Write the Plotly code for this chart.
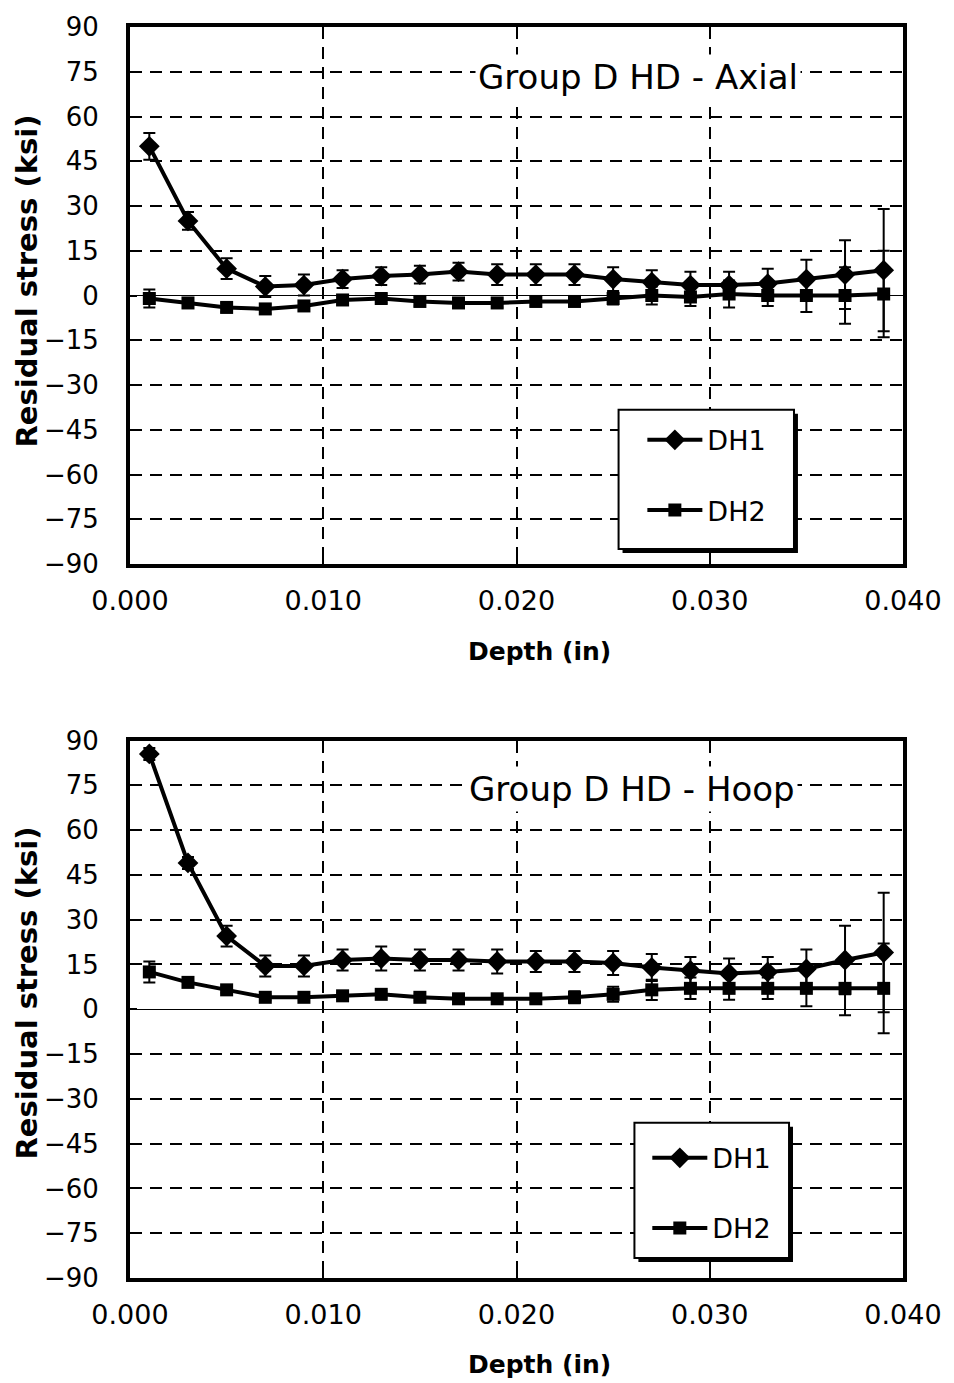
import plotly.graph_objects as go

# Depth positions (in)
depth = [0.001, 0.003, 0.005, 0.007, 0.009, 0.011, 0.013, 0.015, 0.017, 0.019,
         0.021, 0.023, 0.025, 0.027, 0.029, 0.031, 0.033, 0.035, 0.037, 0.039]

# Axial residual stress (ksi)
axial_dh1 = [50, 25, 9, 3, 3.5, 5.5, 6.5, 7, 8, 7, 7, 7, 5.5, 4.5, 3.5, 3.5, 4, 5.5, 7, 8.5]
axial_dh1_err = [4.5, 3, 3.5, 3.5, 3.5, 3, 3, 3, 3, 3.5, 3.5, 3.5, 4, 4, 4.5, 4.5, 5, 6.5, 11.5, 20.5]
axial_dh2 = [-1, -2.5, -4, -4.5, -3.5, -1.5, -1, -2, -2.5, -2.5, -2, -2, -1, 0, -0.5, 0.5, 0, 0, 0, 0.5]
axial_dh2_err = [3, 1.5, 1.5, 1.5, 1.5, 1.5, 1.5, 1.5, 1.5, 1.5, 1.5, 1.5, 2, 3, 3, 4.5, 3.5, 5.5, 9.5, 14.5]

# Hoop residual stress (ksi)
hoop_dh1 = [85.5, 49, 24.5, 14.5, 14.5, 16.5, 17, 16.5, 16.5, 16, 16, 16, 15.5, 14, 13, 12, 12.5, 13.5, 16.5, 19]
hoop_dh1_err = [2, 2, 3.5, 3.5, 3.5, 3.5, 4, 3.5, 3.5, 4, 3.5, 3.5, 4, 4.5, 4.5, 5, 5, 6.5, 11.5, 20]
hoop_dh2 = [12.5, 9, 6.5, 4, 4, 4.5, 5, 4, 3.5, 3.5, 3.5, 4, 5, 6.5, 7, 7, 7, 7, 7, 7]
hoop_dh2_err = [3.5, 1, 1, 1, 1, 1, 1, 1, 1, 1, 1.5, 2, 2.5, 3.4, 3.6, 3.8, 3.6, 6, 9, 15]

series_names = ["DH1", "DH2"]
panel_titles = ["Group D HD - Axial", "Group D HD - Hoop"]

y_ticks = list(range(-90, 91, 15))
x_ticks = [0.0, 0.01, 0.02, 0.03, 0.04]
x_ticktext = ["0.000", "0.010", "0.020", "0.030", "0.040"]

FONT = "DejaVu Sans"
W, H = 954, 1383
L, R, T, B = 130, 44, 20, 105
PW, PH = W - L - R, H - T - B


def px_x(px):
    return (px - L) / PW


def px_y(py):
    return 1 - (py - T) / PH


fig = go.Figure()


def add_pair(vals1, err1, vals2, err2, xa, ya, legend):
    common = dict(mode="lines+markers", line=dict(color="black", width=4),
                  xaxis=xa, yaxis=ya, legend=legend)
    fig.add_trace(go.Scatter(
        x=depth, y=vals1, name=series_names[0], legendgroup=legend + "a",
        marker=dict(symbol="diamond", size=16, color="black"),
        error_y=dict(type="data", array=err1, color="black", thickness=2, width=6),
        **common))
    fig.add_trace(go.Scatter(
        x=depth, y=vals2, name=series_names[1], legendgroup=legend + "b",
        marker=dict(symbol="square", size=13, color="black"),
        error_y=dict(type="data", array=err2, color="black", thickness=2, width=6),
        **common))


add_pair(axial_dh1, axial_dh1_err, axial_dh2, axial_dh2_err, "x", "y", "legend")
add_pair(hoop_dh1, hoop_dh1_err, hoop_dh2, hoop_dh2_err, "x2", "y2", "legend2")

top_dom = [px_y(560), 1.0]
bot_dom = [0.0, px_y(737.5)]

xaxis_style = dict(
    range=[0, 0.04], tickvals=x_ticks, ticktext=x_ticktext,
    showgrid=True, gridcolor="black", gridwidth=2, griddash="12px,8px",
    showline=True, linecolor="black", linewidth=4, mirror=True,
    ticks="inside", ticklen=7, tickwidth=2, tickcolor="black",
    tickfont=dict(family=FONT, size=27, color="black"),
    ticklabelstandoff=10, zeroline=False, domain=[0, 1],
)
yaxis_style = dict(
    range=[-90, 90], tickvals=y_ticks,
    showgrid=True, gridcolor="black", gridwidth=2, griddash="12px,8px",
    showline=True, linecolor="black", linewidth=4, mirror=True,
    ticks="inside", ticklen=7, tickwidth=2, tickcolor="black",
    tickfont=dict(family=FONT, size=26, color="black"),
    ticklabelstandoff=22,
    zeroline=True, zerolinecolor="black", zerolinewidth=1,
)

legend_style = dict(
    font=dict(family=FONT, size=27, color="black"),
    bgcolor="rgba(0,0,0,0)", borderwidth=0,
    traceorder="grouped", tracegroupgap=32, itemwidth=55,
    xanchor="left", yanchor="top",
)

fig.update_layout(
    width=W, height=H,
    margin=dict(l=L, r=R, t=T, b=B),
    paper_bgcolor="white", plot_bgcolor="white",
    showlegend=True,
    xaxis=dict(anchor="y", **xaxis_style),
    yaxis=dict(anchor="x", domain=top_dom, **yaxis_style),
    xaxis2=dict(anchor="y2", **xaxis_style),
    yaxis2=dict(anchor="x2", domain=bot_dom, **yaxis_style),
    legend=dict(x=px_x(647), y=px_y(411), **legend_style),
    legend2=dict(x=px_x(652), y=px_y(1133), **legend_style),
)

# Legend frames with drop shadow
for (x0, y0, x1, y1) in [(623, 405, 800, 545), (639, 1122, 795, 1258)]:
    fig.add_shape(type="rect", xref="paper", yref="paper",
                  x0=px_x(x0 + 4), x1=px_x(x1 + 4), y0=px_y(y1 + 4), y1=px_y(y0 + 4),
                  fillcolor="black", line=dict(width=0), layer="above")
    fig.add_shape(type="rect", xref="paper", yref="paper",
                  x0=px_x(x0), x1=px_x(x1), y0=px_y(y1), y1=px_y(y0),
                  fillcolor="white", line=dict(color="black", width=2), layer="above")

# Panel titles
for title, cx, cy in [(panel_titles[0], 643, 70), (panel_titles[1], 637, 786)]:
    fig.add_annotation(text=title, xref="paper", yref="paper", x=px_x(cx), y=px_y(cy),
                       xanchor="center", yanchor="middle", showarrow=False,
                       bgcolor="white", borderpad=2,
                       font=dict(family=FONT, size=34, color="black"))

# Axis titles
for cy in [648, 1365]:
    fig.add_annotation(text="<b>Depth (in)</b>", xref="paper", yref="paper",
                       x=px_x(543), y=px_y(cy), xanchor="center", yanchor="middle",
                       showarrow=False, font=dict(family=FONT, size=25, color="black"))
for cy in [275, 991]:
    fig.add_annotation(text="<b>Residual stress (ksi)</b>", xref="paper", yref="paper",
                       x=px_x(26), y=px_y(cy), xanchor="center", yanchor="middle",
                       textangle=-90, showarrow=False,
                       font=dict(family=FONT, size=29, color="black"))

fig.write_html("out.html")
